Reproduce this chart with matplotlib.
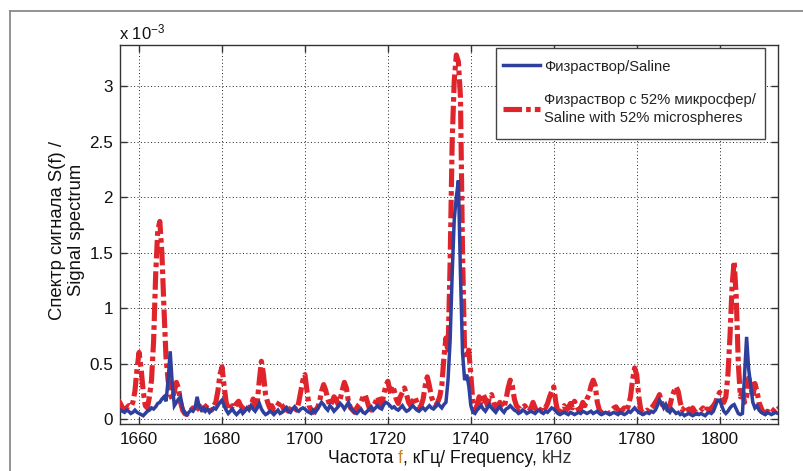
import numpy as np
import matplotlib
matplotlib.use("Agg")
import matplotlib.pyplot as plt
from matplotlib.lines import Line2D
from matplotlib.patches import Rectangle

plt.rcParams['font.family'] = ['Liberation Sans', 'DejaVu Sans']
plt.rcParams['mathtext.default'] = 'regular'

# frequency grid, kHz (0.5 kHz step, 1655.0 ... 1814.5)
freq_start = 1655.0
freq_step = 0.5

# Signal spectrum S(f), units of 1e-3 — Saline
saline = [
    0.09, 0.08, 0.07, 0.06, 0.08, 0.07, 0.05, 0.06, 0.08, 0.06,   # 1655
    0.05, 0.04, 0.03, 0.05, 0.07, 0.08, 0.10, 0.09, 0.11, 0.14,   # 1660
    0.15, 0.18, 0.20, 0.16, 0.35, 0.61, 0.32, 0.12, 0.15, 0.18,   # 1665
    0.20, 0.10, 0.05, 0.04, 0.06, 0.08, 0.07, 0.10, 0.20, 0.11,   # 1670
    0.08, 0.10, 0.07, 0.09, 0.06, 0.08, 0.10, 0.09, 0.12, 0.15,   # 1675
    0.17, 0.12, 0.08, 0.05, 0.07, 0.09, 0.06, 0.04, 0.06, 0.08,   # 1680
    0.05, 0.07, 0.10, 0.08, 0.12, 0.09, 0.07, 0.10, 0.14, 0.09,   # 1685
    0.06, 0.04, 0.05, 0.07, 0.06, 0.04, 0.06, 0.08, 0.05, 0.06,   # 1690
    0.08, 0.10, 0.07, 0.06, 0.09, 0.11, 0.08, 0.07, 0.09, 0.10,   # 1695
    0.09, 0.07, 0.06, 0.05, 0.08, 0.06, 0.09, 0.12, 0.15, 0.13,   # 1700
    0.10, 0.08, 0.12, 0.10, 0.07, 0.09, 0.11, 0.14, 0.12, 0.09,   # 1705
    0.12, 0.15, 0.10, 0.08, 0.06, 0.05, 0.07, 0.09, 0.06, 0.05,   # 1710
    0.07, 0.09, 0.11, 0.08, 0.10, 0.12, 0.10, 0.09, 0.13, 0.15,   # 1715
    0.14, 0.12, 0.10, 0.11, 0.09, 0.08, 0.10, 0.12, 0.09, 0.07,   # 1720
    0.08, 0.10, 0.12, 0.10, 0.08, 0.07, 0.09, 0.10, 0.08, 0.10,   # 1725
    0.12, 0.10, 0.09, 0.11, 0.14, 0.12, 0.10, 0.13, 0.15, 0.35,   # 1730
    0.70, 1.30, 1.80, 2.00, 2.15, 1.30, 0.60, 0.35, 0.40, 0.30,   # 1735
    0.12, 0.06, 0.05, 0.08, 0.10, 0.12, 0.09, 0.07, 0.10, 0.13,   # 1740
    0.10, 0.08, 0.06, 0.09, 0.11, 0.08, 0.06, 0.09, 0.10, 0.12,   # 1745
    0.10, 0.08, 0.07, 0.05, 0.06, 0.08, 0.07, 0.05, 0.06, 0.07,   # 1750
    0.06, 0.05, 0.07, 0.08, 0.06, 0.05, 0.07, 0.06, 0.08, 0.10,   # 1755
    0.09, 0.07, 0.05, 0.04, 0.05, 0.06, 0.05, 0.04, 0.06, 0.05,   # 1760
    0.04, 0.05, 0.06, 0.05, 0.07, 0.06, 0.05, 0.06, 0.07, 0.05,   # 1765
    0.06, 0.07, 0.05, 0.04, 0.05, 0.06, 0.05, 0.04, 0.05, 0.06,   # 1770
    0.05, 0.04, 0.06, 0.05, 0.04, 0.05, 0.07, 0.06, 0.08, 0.10,   # 1775
    0.08, 0.06, 0.05, 0.04, 0.05, 0.06, 0.05, 0.07, 0.06, 0.08,   # 1780
    0.12, 0.17, 0.14, 0.10, 0.13, 0.08, 0.06, 0.09, 0.07, 0.05,   # 1785
    0.06, 0.04, 0.05, 0.03, 0.04, 0.05, 0.04, 0.03, 0.04, 0.05,   # 1790
    0.04, 0.05, 0.04, 0.03, 0.05, 0.06, 0.05, 0.07, 0.12, 0.17,   # 1795
    0.17, 0.12, 0.07, 0.05, 0.07, 0.10, 0.12, 0.13, 0.09, 0.05,   # 1800
    0.04, 0.05, 0.40, 0.74, 0.45, 0.30, 0.15, 0.10, 0.12, 0.08,   # 1805
    0.06, 0.05, 0.04, 0.06, 0.05, 0.04, 0.05, 0.06, 0.05, 0.05,   # 1810
]

# Saline with 52% microspheres
microspheres = [
    0.17, 0.14, 0.10, 0.08, 0.10, 0.12, 0.11, 0.15, 0.25, 0.45,   # 1655
    0.60, 0.45, 0.25, 0.12, 0.10, 0.20, 0.35, 0.70, 1.30, 1.70,   # 1660
    1.78, 1.50, 1.00, 0.55, 0.35, 0.22, 0.18, 0.25, 0.33, 0.28,   # 1665
    0.15, 0.08, 0.05, 0.04, 0.06, 0.08, 0.10, 0.07, 0.09, 0.12,   # 1670
    0.10, 0.08, 0.11, 0.13, 0.09, 0.08, 0.12, 0.15, 0.25, 0.40,   # 1675
    0.47, 0.30, 0.15, 0.10, 0.08, 0.12, 0.10, 0.14, 0.16, 0.12,   # 1680
    0.10, 0.08, 0.06, 0.10, 0.12, 0.18, 0.12, 0.15, 0.35, 0.52,   # 1685
    0.40, 0.22, 0.15, 0.10, 0.12, 0.08, 0.10, 0.13, 0.16, 0.12,   # 1690
    0.08, 0.10, 0.07, 0.09, 0.12, 0.10, 0.08, 0.15, 0.25, 0.35,   # 1695
    0.40, 0.25, 0.12, 0.08, 0.06, 0.08, 0.10, 0.15, 0.25, 0.31,   # 1700
    0.26, 0.18, 0.12, 0.15, 0.20, 0.18, 0.13, 0.18, 0.26, 0.33,   # 1705
    0.28, 0.15, 0.10, 0.08, 0.06, 0.10, 0.13, 0.15, 0.20, 0.22,   # 1710
    0.16, 0.10, 0.08, 0.12, 0.15, 0.20, 0.15, 0.12, 0.22, 0.30,   # 1715
    0.34, 0.25, 0.30, 0.26, 0.18, 0.14, 0.20, 0.24, 0.28, 0.22,   # 1720
    0.15, 0.12, 0.16, 0.20, 0.15, 0.10, 0.12, 0.18, 0.30, 0.38,   # 1725
    0.30, 0.20, 0.15, 0.12, 0.15, 0.20, 0.30, 0.55, 0.73, 0.60,   # 1730
    1.40, 2.50, 3.05, 3.28, 3.22, 2.90, 1.50, 0.60, 0.55, 0.62,   # 1735
    0.40, 0.15, 0.08, 0.12, 0.20, 0.15, 0.22, 0.18, 0.12, 0.20,   # 1740
    0.22, 0.15, 0.10, 0.12, 0.15, 0.12, 0.10, 0.18, 0.28, 0.35,   # 1745
    0.30, 0.18, 0.12, 0.10, 0.08, 0.10, 0.12, 0.09, 0.07, 0.10,   # 1750
    0.15, 0.10, 0.07, 0.06, 0.09, 0.12, 0.10, 0.14, 0.20, 0.25,   # 1755
    0.29, 0.15, 0.06, 0.04, 0.08, 0.12, 0.08, 0.10, 0.14, 0.10,   # 1760
    0.16, 0.12, 0.08, 0.10, 0.15, 0.12, 0.18, 0.22, 0.30, 0.35,   # 1765
    0.30, 0.15, 0.08, 0.05, 0.06, 0.08, 0.06, 0.05, 0.08, 0.10,   # 1770
    0.11, 0.08, 0.06, 0.08, 0.10, 0.07, 0.12, 0.20, 0.35, 0.46,   # 1775
    0.40, 0.20, 0.08, 0.05, 0.06, 0.08, 0.06, 0.10, 0.12, 0.15,   # 1780
    0.18, 0.22, 0.15, 0.10, 0.12, 0.08, 0.12, 0.20, 0.25, 0.29,   # 1785
    0.25, 0.15, 0.08, 0.10, 0.12, 0.08, 0.06, 0.10, 0.07, 0.05,   # 1790
    0.06, 0.08, 0.10, 0.07, 0.09, 0.08, 0.10, 0.12, 0.15, 0.20,   # 1795
    0.24, 0.22, 0.15, 0.20, 0.40, 0.75, 1.20, 1.42, 1.10, 0.50,   # 1800
    0.20, 0.25, 0.15, 0.20, 0.37, 0.30, 0.20, 0.32, 0.25, 0.15,   # 1805
    0.10, 0.06, 0.05, 0.07, 0.06, 0.05, 0.08, 0.10, 0.12, 0.10,   # 1810
]

x_ticks = [1660, 1680, 1700, 1720, 1740, 1760, 1780, 1800]
y_ticks = [0, 0.5, 1, 1.5, 2, 2.5, 3]
y_tick_labels = ["0", "0.5", "1", "1.5", "2", "2.5", "3"]
label_saline = "Физраствор/Saline"
label_micro = "Физраствор с 52% микросфер/\nSaline with 52% microspheres"

freq = freq_start + freq_step * np.arange(len(saline))

W, H = 804, 471
fig = plt.figure(figsize=(W / 100, H / 100), dpi=100)
fig.patch.set_facecolor('white')

# outer frame (cropped at right and bottom)
fig.add_artist(Line2D([10 / W, 1.0], [1 - 10.5 / H, 1 - 10.5 / H], transform=fig.transFigure,
                      color='#8a8a8a', lw=1.3))
fig.add_artist(Line2D([10.5 / W, 10.5 / W], [0.0, 1 - 10.5 / H], transform=fig.transFigure,
                      color='#8a8a8a', lw=1.3))

ax = fig.add_axes([120 / W, 1 - 424 / H, (777.7 - 120) / W, (424 - 45) / H])

blue = '#2f3f9e'
red = '#e0242c'
l2, = ax.plot(freq, microspheres, color=red, lw=3.7, linestyle=(0, (3.6, 0.8, 0.9, 0.8)),
              zorder=3, label=label_micro)
l1, = ax.plot(freq, saline, color=blue, lw=2.5, zorder=4, label=label_saline,
              solid_joinstyle='miter')

ax.set_xlim(1655.4, 1814.0)
ax.set_ylim(-0.045, 3.37)
ax.set_xticks(x_ticks)
ax.set_xticklabels([str(t) for t in x_ticks])
ax.set_yticks(y_ticks)
ax.set_yticklabels(y_tick_labels)
ax.tick_params(direction='in', length=5, width=1, colors='#333333', labelcolor='#111111',
               labelsize=12.3, top=True, right=True, pad=6)
ax.tick_params(axis='y', pad=5)
for s in ax.spines.values():
    s.set_color('#333333')
    s.set_linewidth(1.0)
ax.grid(True, color='#222222', linestyle=(0, (1, 2.5)), linewidth=0.7)
ax.set_axisbelow(True)

# legend box drawn explicitly, legend entries without own frame
box = Rectangle((496 / W, 1 - 139 / H), (765 - 496) / W, (139 - 47.7) / H,
                transform=fig.transFigure, facecolor='white', edgecolor='#444444',
                linewidth=1.0, zorder=5)
ax.add_patch(box)
box.set_clip_on(False)
leg = ax.legend(handles=[l1, l2], loc='upper left', bbox_to_anchor=(496 / W, 1 - 53 / H),
                bbox_transform=fig.transFigure, fontsize=10.6, frameon=False,
                handlelength=2.55, handletextpad=0.25,
                borderpad=0.45, labelspacing=1.35, borderaxespad=0)
leg.set_zorder(6)
for t in leg.get_texts():
    t.set_color('#222222')
    t.set_linespacing(1.3)

# scale factor text
fig.text(119 / W, 1 - 39 / H, r"x 10$^{-3}$", fontsize=12, color='#111111', ha='left', va='baseline')

# y label
fig.text(67 / W, 1 - 230 / H, "Спектр сигнала S(f) /\nSignal spectrum", rotation=90,
         fontsize=13.3, color='#111111', ha='center', va='center', multialignment='center',
         linespacing=1.2)

# x label with coloured "f"
parts = [("Частота ", '#111111'), ("f", '#c8822a'), (", кГц/ Frequency, ", '#111111'), ("kHz", '#333333')]
fig.canvas.draw()
renderer = fig.canvas.get_renderer()
fs = 12.7
texts = []
total_w = 0
for s, c in parts:
    t = fig.text(0, 0, s, fontsize=fs, color=c)
    texts.append(t)
    total_w += t.get_window_extent(renderer).width
x0 = 450 - total_w / 2
for t in texts:
    w = t.get_window_extent(renderer).width
    t.set_position((x0 / W, 1 - 463 / H))
    t.set_va('baseline')
    x0 += w

fig.savefig("out.png", dpi=100, facecolor='white')
